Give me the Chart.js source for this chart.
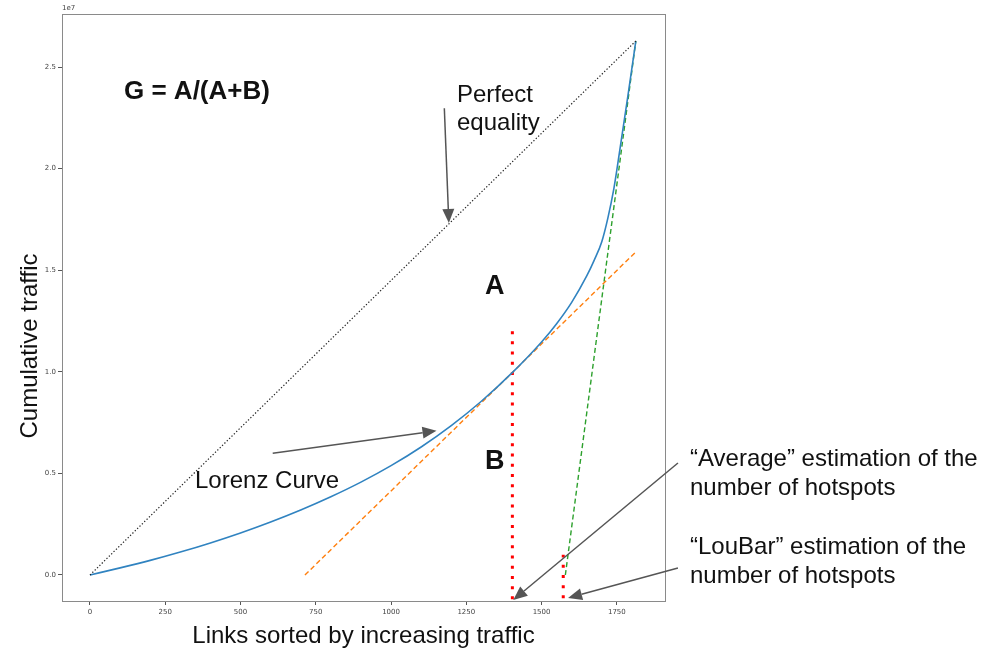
<!DOCTYPE html>
<html><head><meta charset="utf-8">
<script src="https://cdn.jsdelivr.net/npm/chart.js@4/dist/chart.umd.min.js"></script>
<style>html,body{margin:0;padding:0;background:#fff}#wrap{width:982px;height:657px;position:relative}</style>
</head><body><div id="wrap"><canvas id="c" width="982" height="657"></canvas></div>
<script>
// Lorenz curve (cumulative traffic vs links sorted by increasing traffic)
const lorenzX = [0, 100, 200, 300, 400, 500, 600, 700, 800, 900, 1000, 1100, 1200, 1300, 1400, 1500, 1550, 1600, 1650, 1675, 1700, 1720, 1740, 1760, 1787, 1813];
const lorenzY = [0, 0.035e7, 0.072e7, 0.113e7, 0.158e7, 0.207e7, 0.261e7, 0.320e7, 0.385e7, 0.457e7, 0.538e7, 0.630e7, 0.735e7, 0.855e7, 0.992e7, 1.147e7, 1.237e7, 1.342e7, 1.472e7, 1.55e7, 1.64e7, 1.755e7, 1.90e7, 2.092e7, 2.36e7, 2.628e7];
// Perfect equality line
const equalityX = [0, 1813];
const equalityY = [0, 2.628e7];
// Tangent at average ("Average" estimation)
const tangentX = [714, 1813];
const tangentY = [0, 1.59e7];
// LouBar line (tangent at last point)
const loubarX = [1579, 1813];
const loubarY = [0, 2.628e7];
// Red vertical markers
const avgMarkX = [1403, 1403];
const avgMarkY = [-1.2e6, 1.2e7];
const loubarMarkX = [1572, 1572];
const loubarMarkY = [-1.15e6, 0.1e7];
// Tick labels
const xTicks = [0, 250, 500, 750, 1000, 1250, 1500, 1750];
const yTicks = [0, 0.5e7, 1.0e7, 1.5e7, 2.0e7, 2.5e7];

const pts = (xs, ys) => xs.map((x, i) => ({x, y: ys[i]}));

const annotPlugin = {
  id: 'annot',
  afterDraw(chart) {
    const ctx = chart.ctx, a = chart.chartArea;
    const xs = chart.scales.x, ys = chart.scales.y;
    const px = v => xs.getPixelForValue(v), py = v => ys.getPixelForValue(v);
    ctx.save();
    // frame
    ctx.strokeStyle = '#8a8a8a'; ctx.lineWidth = 1;
    ctx.strokeRect(Math.round(a.left) + 0.5, Math.round(a.top) + 0.5, Math.round(a.right - a.left), Math.round(a.bottom - a.top));
    // offset text
    ctx.fillStyle = '#444'; ctx.font = '7px "DejaVu Sans"'; ctx.textBaseline = 'bottom'; ctx.textAlign = 'left';
    ctx.fillText('1e7', a.left, a.top - 2);
    // y axis title
    ctx.fillStyle = '#111'; ctx.font = '24px "Liberation Sans", Arial, sans-serif';
    ctx.save(); ctx.translate(30, 346); ctx.rotate(-Math.PI / 2);
    ctx.textAlign = 'center'; ctx.textBaseline = 'middle';
    ctx.fillText('Cumulative traffic', 0, 0); ctx.restore();
    // texts
    ctx.textAlign = 'left'; ctx.textBaseline = 'middle';
    ctx.font = 'bold 26px "Liberation Sans", Arial, sans-serif';
    ctx.fillText('G = A/(A+B)', 124, 92);
    ctx.font = 'bold 27px "Liberation Sans", Arial, sans-serif';
    ctx.fillText('A', 485, 287);
    ctx.fillText('B', 485, 462);
    ctx.font = '24px "Liberation Sans", Arial, sans-serif';
    ctx.fillText('Perfect', 457, 95);
    ctx.fillText('equality', 457, 123);
    ctx.fillText('Lorenz Curve', 195, 481);
    ctx.fillText('\u201CAverage\u201D estimation of the', 690, 459);
    ctx.fillText('number of hotspots', 690, 488);
    ctx.fillText('\u201CLouBar\u201D estimation of the', 690, 547);
    ctx.fillText('number of hotspots', 690, 576);
    // arrows (data coordinates)
    const arrows = [
      [1177, 2.297e7, 1192, 1.732e7],
      [607, 0.599e7, 1151, 0.710e7],
      [1953, 0.551e7, 1406, -0.123e7],
      [1953, 0.034e7, 1588, -0.113e7]
    ];
    ctx.strokeStyle = '#555'; ctx.fillStyle = '#555'; ctx.lineWidth = 1.5;
    for (const [x1, y1, x2, y2] of arrows) {
      const X1 = px(x1), Y1 = py(y1), X2 = px(x2), Y2 = py(y2);
      const ang = Math.atan2(Y2 - Y1, X2 - X1);
      const L = 14, W = 6;
      const bx = X2 - L * Math.cos(ang), by = Y2 - L * Math.sin(ang);
      ctx.beginPath(); ctx.moveTo(X1, Y1); ctx.lineTo(bx, by); ctx.stroke();
      ctx.beginPath(); ctx.moveTo(X2, Y2);
      ctx.lineTo(bx + W * Math.sin(ang), by - W * Math.cos(ang));
      ctx.lineTo(bx - W * Math.sin(ang), by + W * Math.cos(ang));
      ctx.closePath(); ctx.fill();
    }
    ctx.restore();
  }
};

const line = (data, color, width, dash, extra) => Object.assign({
  data, borderColor: color, backgroundColor: color, borderWidth: width, borderDash: dash,
  showLine: true, pointRadius: 0, fill: false, tension: 0
}, extra || {});

new Chart(document.getElementById('c'), {
  type: 'scatter',
  data: {
    datasets: [
      line(pts(equalityX, equalityY), '#222', 1.2, [1.3, 2]),
      line(pts(lorenzX, lorenzY), '#3083c0', 1.6, [], {cubicInterpolationMode: 'monotone'}),
      line(pts(tangentX, tangentY), '#ff7f0e', 1.4, [5, 3]),
      line(pts(loubarX, loubarY), '#2ca02c', 1.4, [5, 3]),
      line(pts(avgMarkX, avgMarkY), '#ff0000', 3, [3, 7.2]),
      line(pts(loubarMarkX, loubarMarkY), '#ff0000', 3, [3, 7.2])
    ]
  },
  options: {
    responsive: false, animation: false,
    layout: {padding: {left: 0, top: 14, right: 317, bottom: 0}},
    plugins: {legend: {display: false}, tooltip: {enabled: false}},
    scales: {
      x: {
        type: 'linear', min: -93, max: 1910,
        afterBuildTicks: s => { s.ticks = xTicks.map(v => ({value: v})); },
        afterFit: s => { s.height = 56; },
        grid: {display: true, drawOnChartArea: false, drawTicks: true, tickLength: 4, color: '#555'},
        border: {display: false},
        ticks: {font: {family: 'DejaVu Sans', size: 7}, color: '#444', padding: 3, maxRotation: 0, callback: v => String(v)},
        title: {display: true, text: 'Links sorted by increasing traffic', color: '#111',
          font: {family: '"Liberation Sans", Arial, sans-serif', size: 24}, padding: {top: 0, bottom: 6}}
      },
      y: {
        type: 'linear', min: -1.28e6, max: 2.761e7,
        afterBuildTicks: s => { s.ticks = yTicks.map(v => ({value: v})); },
        afterFit: s => { s.width = 62; },
        grid: {display: true, drawOnChartArea: false, drawTicks: true, tickLength: 4, color: '#555'},
        border: {display: false},
        ticks: {font: {family: 'DejaVu Sans', size: 7}, color: '#444', padding: 2, callback: v => (v / 1e7).toFixed(1)}
      }
    }
  },
  plugins: [annotPlugin]
});
</script>
</body></html>
